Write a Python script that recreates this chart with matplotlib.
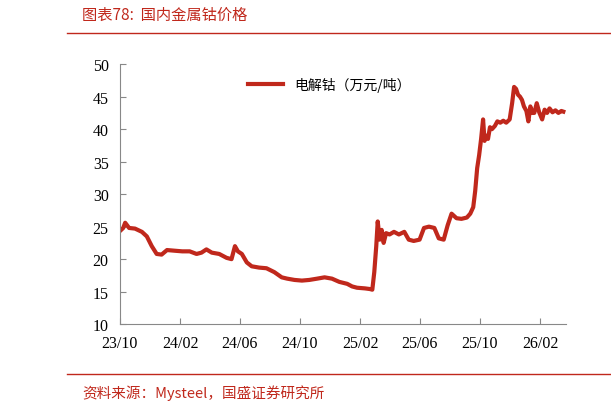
import matplotlib.pyplot as plt
import matplotlib.dates as mdates
import pandas as pd

# 电解钴价格（万元/吨）
dates = ["2023-10-01", "2023-10-08", "2023-10-12", "2023-10-20", "2023-11-01", "2023-11-15",
         "2023-11-25", "2023-12-05", "2023-12-15", "2023-12-25", "2024-01-05", "2024-01-20",
         "2024-02-05", "2024-02-20", "2024-03-05", "2024-03-15", "2024-03-25", "2024-04-05",
         "2024-04-20", "2024-05-05", "2024-05-15", "2024-05-22", "2024-05-28", "2024-06-05",
         "2024-06-15", "2024-06-25", "2024-07-10", "2024-07-25", "2024-08-10", "2024-08-25",
         "2024-09-05", "2024-09-20", "2024-10-05", "2024-10-20", "2024-11-05", "2024-11-20",
         "2024-12-05", "2024-12-20", "2025-01-05", "2025-01-15", "2025-01-25", "2025-02-10",
         "2025-02-20", "2025-02-25", "2025-03-01", "2025-03-05", "2025-03-08", "2025-03-12",
         "2025-03-16", "2025-03-20", "2025-03-25", "2025-04-01", "2025-04-10", "2025-04-20",
         "2025-05-01", "2025-05-10", "2025-05-20", "2025-06-01", "2025-06-10", "2025-06-20",
         "2025-07-01", "2025-07-10", "2025-07-20", "2025-07-28", "2025-08-05", "2025-08-15",
         "2025-08-25", "2025-09-05", "2025-09-12", "2025-09-18", "2025-09-22", "2025-09-26",
         "2025-09-30", "2025-10-04", "2025-10-08", "2025-10-11", "2025-10-14", "2025-10-18",
         "2025-10-22", "2025-10-26", "2025-11-01", "2025-11-06", "2025-11-12", "2025-11-18",
         "2025-11-24", "2025-12-01", "2025-12-06", "2025-12-10", "2025-12-14", "2025-12-18",
         "2025-12-22", "2025-12-26", "2025-12-30", "2026-01-04", "2026-01-08", "2026-01-12",
         "2026-01-16", "2026-01-20", "2026-01-25", "2026-01-30", "2026-02-05", "2026-02-10",
         "2026-02-15", "2026-02-20", "2026-02-26", "2026-03-04", "2026-03-10", "2026-03-16",
         "2026-03-20"]
prices = [24.3, 24.8, 25.6, 24.8, 24.7, 24.2,
          23.5, 22.0, 20.8, 20.7, 21.4, 21.3,
          21.2, 21.2, 20.8, 21.0, 21.5, 21.0,
          20.8, 20.2, 20.0, 22.0, 21.2, 20.8,
          19.5, 18.9, 18.7, 18.6, 18.0, 17.2,
          17.0, 16.8, 16.7, 16.8, 17.0, 17.2,
          17.0, 16.5, 16.2, 15.8, 15.6, 15.5,
          15.4, 15.3, 18.0, 22.0, 25.8, 23.0,
          24.5, 22.5, 24.0, 23.8, 24.2, 23.8,
          24.2, 23.0, 22.8, 23.0, 24.8, 25.0,
          24.8, 23.2, 23.0, 25.2, 27.0, 26.3,
          26.2, 26.4, 27.0, 28.0, 30.5, 34.0,
          36.0, 38.5, 41.5, 38.2, 39.0, 38.5,
          40.3, 40.0, 40.5, 41.2, 41.0, 41.3,
          41.0, 41.5, 44.0, 46.5, 46.2, 45.3,
          45.0, 44.5, 43.5, 42.8, 41.2, 43.5,
          42.5, 42.5, 44.0, 42.6, 41.5, 43.0,
          42.5, 43.2, 42.6, 42.9, 42.5, 42.8,
          42.7]

tick_dates = ["2023-10-01", "2024-02-01", "2024-06-01", "2024-10-01",
              "2025-02-01", "2025-06-01", "2025-10-01", "2026-02-01"]

red = "#C0281C"
cjk = ["Noto Sans CJK SC", "DejaVu Sans"]

fig = plt.figure(figsize=(6.11, 4.10), dpi=100)
ax = fig.add_axes([0.196, 0.207, 0.730, 0.634])

x = pd.to_datetime(dates)
ax.plot(x, prices, color=red, lw=3, label="电解钴（万元/吨）")

ax.set_ylim(10, 50)
ax.set_yticks(range(10, 51, 5))
ax.set_xlim(pd.Timestamp("2023-10-01"), pd.Timestamp("2026-03-25"))
ax.set_xticks(pd.to_datetime(tick_dates))
ax.xaxis.set_major_formatter(mdates.DateFormatter("%y/%m"))
for lab in ax.get_xticklabels() + ax.get_yticklabels():
    lab.set_fontfamily("Liberation Serif")
    lab.set_fontsize(11.5)
ax.tick_params(direction="in", length=4, color="#888888")
ax.tick_params(axis="x", pad=8)
ax.tick_params(axis="y", pad=8)
for s in ["top", "right"]:
    ax.spines[s].set_visible(False)
for s in ["left", "bottom"]:
    ax.spines[s].set_color("#888888")

leg = ax.legend(loc="upper center", bbox_to_anchor=(0.47, 1.0), frameon=False,
                prop={"family": cjk, "size": 10}, handlelength=2.5)

# 标题与来源
fig.text(0.135, 0.952, "图表78:  国内金属钴价格", color=red, fontsize=11,
         style="italic", family=cjk)
fig.add_artist(plt.Line2D([0.11, 1.0], [0.918, 0.918], color=red, lw=1))
fig.add_artist(plt.Line2D([0.11, 1.0], [0.085, 0.085], color=red, lw=1))
fig.text(0.135, 0.03, "资料来源：Mysteel，国盛证券研究所", color=red, fontsize=10.5,
         style="italic", family=cjk)

fig.savefig("out.png", dpi=100)
